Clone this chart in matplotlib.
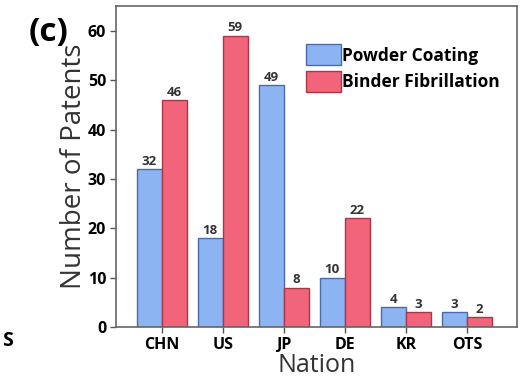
import matplotlib.pyplot as plt
import numpy as np

plt.rcParams['font.family'] = ['Open Sans', 'DejaVu Sans']

nations = ['CHN', 'US', 'JP', 'DE', 'KR', 'OTS']
powder_coating = [32, 18, 49, 10, 4, 3]
binder_fibrillation = [46, 59, 8, 22, 3, 2]

x = np.arange(len(nations))
width = 0.41

fig = plt.figure(figsize=(5.27, 3.83), dpi=100)
ax = fig.add_axes([0.220, 0.146, 0.761, 0.838])

b1 = ax.bar(x - width / 2, powder_coating, width, color='#8db4f2',
            edgecolor='#4a6aa8', linewidth=1.0, label='Powder Coating')
b2 = ax.bar(x + width / 2, binder_fibrillation, width, color='#f2647a',
            edgecolor='#a83848', linewidth=1.0, label='Binder Fibrillation')

for bars in (b1, b2):
    ax.bar_label(bars, padding=1, fontsize=9.5, fontweight='bold', color='#333333')

ax.set_xlim(-0.75, 5.82)
ax.set_ylim(0, 65)
ax.set_yticks([0, 10, 20, 30, 40, 50, 60])
ax.set_xticks(x)
ax.set_xticklabels(nations)
for lab in ax.get_xticklabels() + ax.get_yticklabels():
    lab.set_fontweight('bold')
    lab.set_fontsize(11.5)
ax.tick_params(direction='out', length=4, width=1.0, color='#555555', pad=3)

for s in ax.spines.values():
    s.set_color('#666666')
    s.set_linewidth(1.2)

ax.set_xlabel('Nation', fontsize=18, labelpad=0, color='#333333')
ax.set_ylabel('Number of Patents', fontsize=20, labelpad=0, color='#333333')

ax.legend(loc='upper right', bbox_to_anchor=(0.995, 0.93), frameon=False,
          handlelength=2.0, handleheight=1.5, handletextpad=0.05,
          labelspacing=0.3, prop={'weight': 'bold', 'size': 12.5})

fig.text(0.055, 0.915, '(c)', fontsize=24, fontweight='bold', ha='left', va='center')
fig.text(0.004, 0.11, 'S', fontsize=14, fontweight='bold', ha='left', va='center')

fig.savefig('out.png', dpi=100)
